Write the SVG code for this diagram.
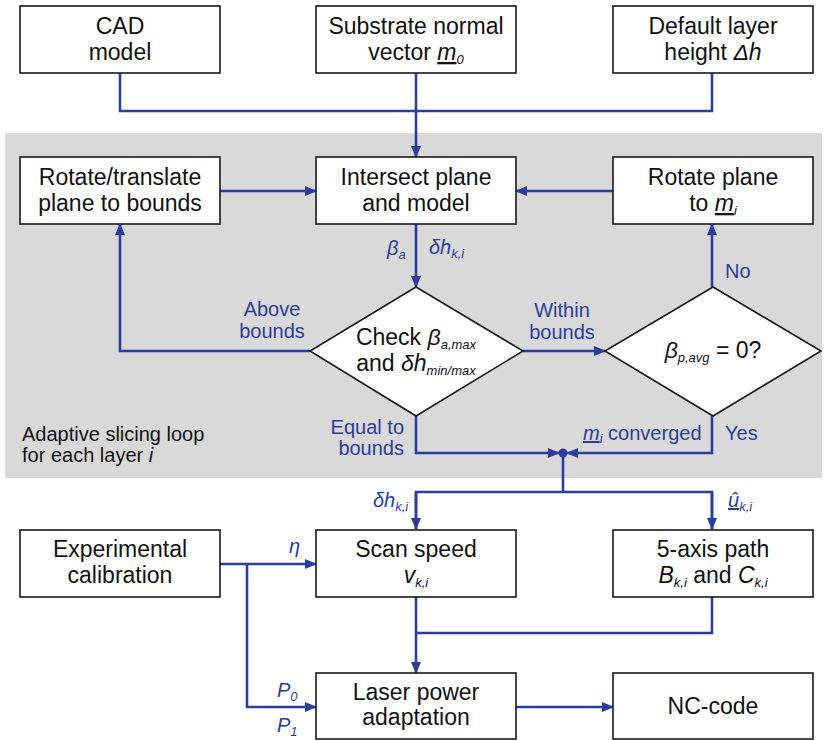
<svg xmlns="http://www.w3.org/2000/svg" width="827" height="741" viewBox="0 0 827 741">
<style>
text{font-family:"Liberation Sans",Arial,sans-serif}
.box{fill:#fff;stroke:#1a1a1a;stroke-width:1.6}
.t{font-size:23px;fill:#111;text-anchor:middle}
.l{font-size:20px;fill:#2b3d9e}
.c{fill:none;stroke:#2b3d9e;stroke-width:2.6}
.s{font-size:13px;font-style:italic}
.i{font-style:italic}
</style>
<defs>
<marker id="ah" markerWidth="12" markerHeight="10" refX="11" refY="5" orient="auto" markerUnits="userSpaceOnUse">
<path d="M0,0 L12,5 L0,10 Z" fill="#2b3d9e"/>
</marker>
</defs>
<rect x="5" y="133" width="817" height="345" fill="#d9d9d9"/>
<g id="connectors">
<polyline class="c" points="120,73 120,111 712,111 712,73"/>
<line class="c" x1="416" y1="73" x2="416" y2="157" marker-end="url(#ah)"/>
<line class="c" x1="220" y1="191" x2="316" y2="191" marker-end="url(#ah)"/>
<line class="c" x1="613" y1="191" x2="516" y2="191" marker-end="url(#ah)"/>
<line class="c" x1="416" y1="224" x2="416" y2="287" marker-end="url(#ah)"/>
<polyline class="c" points="310,351 120,351 120,224" marker-end="url(#ah)"/>
<line class="c" x1="523" y1="351" x2="605" y2="351" marker-end="url(#ah)"/>
<line class="c" x1="712" y1="287" x2="712" y2="224" marker-end="url(#ah)"/>
<polyline class="c" points="416,416 416,453 559,453" marker-end="url(#ah)"/>
<polyline class="c" points="712,416 712,453 567,453" marker-end="url(#ah)"/>
<circle cx="563" cy="453" r="4.5" fill="#2b3d9e"/>
<line class="c" x1="563" y1="453" x2="563" y2="492"/>
<polyline class="c" points="416,529 416,492 712,492 712,529"/>
<line class="c" x1="416" y1="492" x2="416" y2="529" marker-end="url(#ah)"/>
<line class="c" x1="712" y1="492" x2="712" y2="529" marker-end="url(#ah)"/>
<line class="c" x1="220" y1="564" x2="316" y2="564" marker-end="url(#ah)"/>
<polyline class="c" points="247,564 247,707 316,707" marker-end="url(#ah)"/>
<line class="c" x1="416" y1="597" x2="416" y2="673" marker-end="url(#ah)"/>
<polyline class="c" points="712,597 712,633 416,633"/>
<line class="c" x1="516" y1="707" x2="613" y2="707" marker-end="url(#ah)"/>
</g>
<g id="labels">
<text class="l i" x="387" y="255">β<tspan class="s" dy="4" font-size="11">a</tspan></text>
<text class="l" x="429" y="254"><tspan class="i">δh</tspan><tspan class="s" dy="4">k,i</tspan></text>
<text class="l" x="725" y="278">No</text>
<text class="l" x="272" y="316" text-anchor="middle">Above</text>
<text class="l" x="272" y="338" text-anchor="middle">bounds</text>
<text class="l" x="562" y="317" text-anchor="middle">Within</text>
<text class="l" x="562" y="339" text-anchor="middle">bounds</text>
<text class="l" x="404" y="434" text-anchor="end">Equal to</text>
<text class="l" x="404" y="455" text-anchor="end">bounds</text>
<text class="l" x="583" y="440"><tspan class="i" text-decoration="underline">m</tspan><tspan class="s" dy="3" font-size="11">i</tspan><tspan dy="-3"> converged</tspan></text>
<text class="l" x="725" y="440">Yes</text>
<text class="l" x="373" y="507"><tspan class="i">δh</tspan><tspan class="s" dy="4">k,i</tspan></text>
<text class="l" x="728" y="507"><tspan class="i" text-decoration="underline">û</tspan><tspan class="s" dy="4">k,i</tspan></text>
<text class="l i" x="289" y="553">η</text>
<text class="l i" x="277" y="697">P<tspan class="s" dy="4" font-size="11">0</tspan></text>
<text class="l i" x="277" y="732">P<tspan class="s" dy="4" font-size="11">1</tspan></text>
<text x="22" y="441" font-size="20" fill="#111">Adaptive slicing loop</text>
<text x="22" y="462" font-size="20" fill="#111">for each layer <tspan class="i">i</tspan></text>
</g>
<g id="cad"><rect class="box" x="20" y="6" width="200" height="67"/><text class="t" x="120" y="34">CAD</text><text class="t" x="120" y="60">model</text></g>
<g id="substrate"><rect class="box" x="316" y="6" width="200" height="67"/><text class="t" x="416" y="34">Substrate normal</text><text class="t" x="416" y="60">vector <tspan class="i" text-decoration="underline">m</tspan><tspan class="s" dy="4" font-size="12">0</tspan></text></g>
<g id="default"><rect class="box" x="613" y="6" width="200" height="67"/><text class="t" x="713" y="34">Default layer</text><text class="t" x="713" y="60">height <tspan class="i">Δh</tspan></text></g>
<g id="rotate-translate"><rect class="box" x="20" y="157" width="200" height="67"/><text class="t" x="120" y="185">Rotate/translate</text><text class="t" x="120" y="211">plane to bounds</text></g>
<g id="intersect"><rect class="box" x="316" y="157" width="200" height="67"/><text class="t" x="416" y="185">Intersect plane</text><text class="t" x="416" y="211">and model</text></g>
<g id="rotate-plane"><rect class="box" x="613" y="157" width="200" height="67"/><text class="t" x="713" y="185">Rotate plane</text><text class="t" x="713" y="211">to <tspan class="i" text-decoration="underline">m</tspan><tspan class="s" dy="4" font-size="12">i</tspan></text></g>
<g id="check"><polygon class="box" points="416,287 523,351 416,416 310,351"/><text class="t" x="416" y="345">Check <tspan class="i">β</tspan><tspan class="s" dy="4">a,max</tspan></text><text class="t" x="416" y="371">and <tspan class="i">δh</tspan><tspan class="s" dy="4">min/max</tspan></text></g>
<g id="beta-check"><polygon class="box" points="713,287 821,351 713,416 605,351"/><text class="t" x="713" y="358"><tspan class="i">β</tspan><tspan class="s" dy="4">p,avg</tspan><tspan dy="-4"> = 0?</tspan></text></g>
<g id="experimental"><rect class="box" x="20" y="530" width="200" height="67"/><text class="t" x="120" y="557">Experimental</text><text class="t" x="120" y="583">calibration</text></g>
<g id="scan-speed"><rect class="box" x="316" y="530" width="200" height="67"/><text class="t" x="416" y="557">Scan speed</text><text class="t" x="416" y="583"><tspan class="i">v</tspan><tspan class="s" dy="4">k,i</tspan></text></g>
<g id="five-axis"><rect class="box" x="613" y="530" width="200" height="67"/><text class="t" x="713" y="557">5-axis path</text><text class="t" x="713" y="583"><tspan class="i">B</tspan><tspan class="s" dy="4">k,i</tspan><tspan dy="-4"> and </tspan><tspan class="i">C</tspan><tspan class="s" dy="4">k,i</tspan></text></g>
<g id="laser"><rect class="box" x="316" y="673" width="200" height="66"/><text class="t" x="416" y="700">Laser power</text><text class="t" x="416" y="725">adaptation</text></g>
<g id="nc-code"><rect class="box" x="613" y="673" width="200" height="66"/><text class="t" x="713" y="714">NC-code</text></g>
</svg>
